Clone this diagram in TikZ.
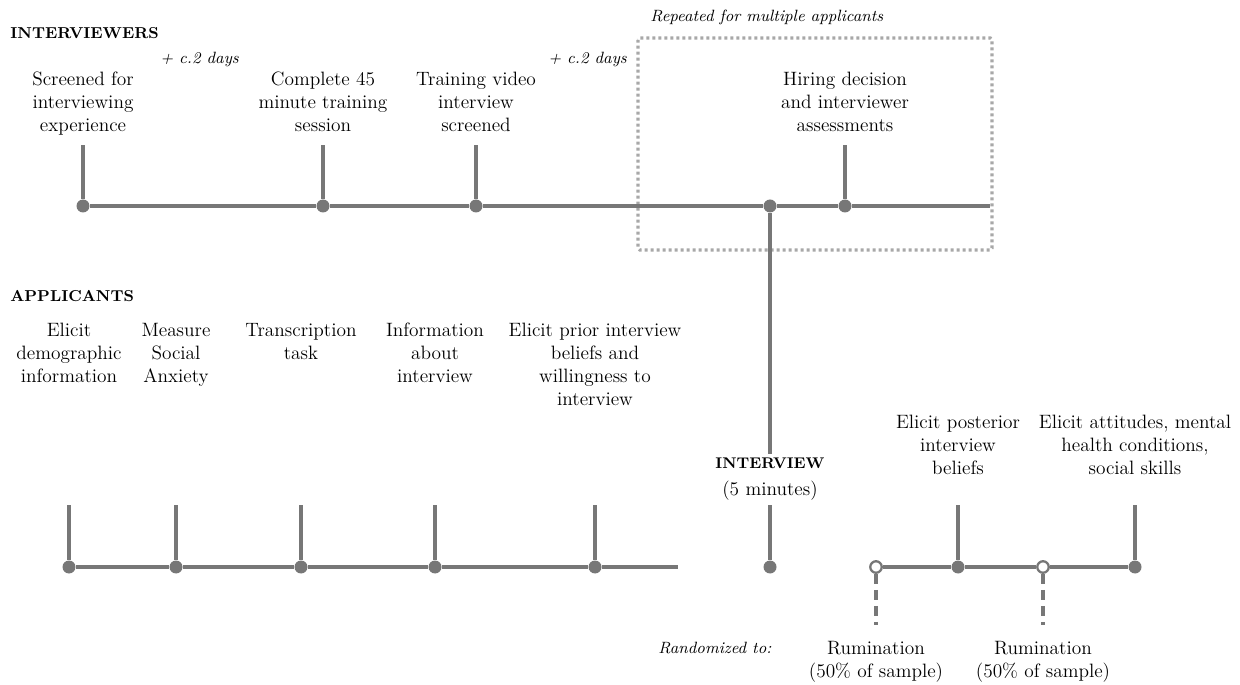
\documentclass[tikz,border=0pt]{standalone}
\usepackage{tikz}
\usetikzlibrary{positioning}
\definecolor{lineg}{HTML}{777777}
\definecolor{boxg}{HTML}{A8A8A8}
\tikzset{every node/.style={font=\fontsize{11}{13.1}\selectfont}, % body text
lbl/.style={align=center, inner sep=0pt, anchor=north},
head/.style={inner sep=0pt, anchor=north west, font=\fontsize{9}{10}\selectfont\bfseries},
note/.style={inner sep=0pt, anchor=north west, font=\fontsize{9.3}{11}\selectfont\itshape},
dot/.style={circle, fill=lineg, inner sep=0pt, minimum size=0.26cm},
odot/.style={circle, draw=lineg, fill=white, line width=1.3pt, inner sep=0pt, minimum size=0.23cm},
tline/.style={draw=lineg, line width=2pt},
rline/.style={draw=lineg, line width=2pt, dash pattern=on 0.2cm off 0.12cm},
repbox/.style={draw=boxg, line width=1.8pt, dash pattern=on 0.06cm off 0.06cm}}
\begin{document}
\begin{tikzpicture}[x=0.02cm, y=-0.02cm]
\useasboundingbox (0,0) rectangle (1240,685);

% interviewers
\node[head] (hint) at (10,27) {INTERVIEWERS};
\node[note] (days1) at (160,52) {+ c.2 days};
\node[note] (days2) at (548,52) {+ c.2 days};
\node[note] (rep) at (650,10) {Repeated for multiple applicants};
\draw[repbox, rounded corners=1pt] (638,38) rectangle (992,250);

\node[lbl] (l1) at (83,72) {Screened for\\interviewing\\experience};
\node[lbl] (l2) at (323,72) {Complete 45\\minute training\\session};
\node[lbl] (l3) at (476,72) {Training video\\interview\\screened};
\node[lbl] (l4) at (845,72) {Hiring decision\\and interviewer\\assessments};

\coordinate (itop) at (0,145);
\coordinate (iend) at (990,206);
\node[dot] (d1) at (83,206) {};
\node[dot] (d2) at (323,206) {};
\node[dot] (d3) at (476,206) {};
\node[dot] (d4) at (770,206) {};
\node[dot] (d5) at (845,206) {};
\draw[tline] (d1) -- (d2) -- (d3) -- (d4) -- (d5) -- (iend);
\draw[tline] (d1) -- (d1 |- itop);
\draw[tline] (d2) -- (d2 |- itop);
\draw[tline] (d3) -- (d3 |- itop);
\draw[tline] (d5) -- (d5 |- itop);

% the interview itself
\coordinate (ivtop) at (0,454);
\draw[tline] (d4) -- (d4 |- ivtop);

% applicants
\node[head] (happ) at (10,290) {APPLICANTS};
\node[lbl] (a1l) at (69,323) {Elicit\\demographic\\information};
\node[lbl] (a2l) at (176,323) {Measure\\Social\\Anxiety};
\node[lbl] (a3l) at (301,323) {Transcription\\task};
\node[lbl] (a4l) at (435,323) {Information\\about\\interview};
\node[lbl] (a5l) at (595,323) {Elicit prior interview\\beliefs and\\willingness to\\interview};
\node[lbl] (a6l) at (770,458) {\fontsize{8.8}{10}\selectfont\bfseries INTERVIEW\\[2pt](5 minutes)};
\node[lbl] (a7l) at (958,415) {Elicit posterior\\interview\\beliefs};
\node[lbl] (a8l) at (1135,415) {Elicit attitudes, mental\\health conditions,\\social skills};

\coordinate (atop) at (0,505);
\coordinate (aend) at (678,567);
\node[dot] (a1) at (69,567) {};
\node[dot] (a2) at (176,567) {};
\node[dot] (a3) at (301,567) {};
\node[dot] (a4) at (435,567) {};
\node[dot] (a5) at (595,567) {};
\node[dot] (a6) at (770,567) {};
\node[odot] (o1) at (876,567) {};
\node[dot] (a7) at (958,567) {};
\node[odot] (o2) at (1043,567) {};
\node[dot] (a8) at (1135,567) {};
\draw[tline] (a1) -- (a2) -- (a3) -- (a4) -- (a5) -- (aend);
\draw[tline] (o1) -- (a7) -- (o2) -- (a8);
\draw[tline] (a1) -- (a1 |- atop);
\draw[tline] (a2) -- (a2 |- atop);
\draw[tline] (a3) -- (a3 |- atop);
\draw[tline] (a4) -- (a4 |- atop);
\draw[tline] (a5) -- (a5 |- atop);
\draw[tline] (a6) -- (a6 |- atop);
\draw[tline] (a7) -- (a7 |- atop);
\draw[tline] (a8) -- (a8 |- atop);

% randomized rumination
\coordinate (rbot) at (0,625);
\draw[rline] (o1) -- (o1 |- rbot);
\draw[rline] (o2) -- (o2 |- rbot);
\node[note, anchor=north] (rand) at (715,642) {Randomized to:};
\node[lbl] (r1) at (876,641) {Rumination\\(50\% of sample)};
\node[lbl] (r2) at (1043,641) {Rumination\\(50\% of sample)};
\end{tikzpicture}
\end{document}
